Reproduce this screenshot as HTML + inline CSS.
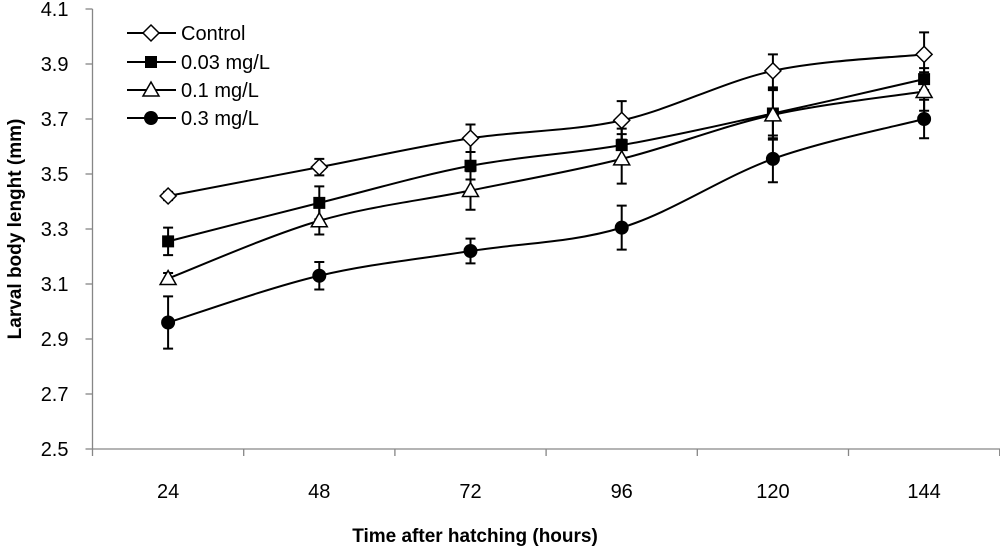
<!DOCTYPE html>
<html><head><meta charset="utf-8"><style>
html,body{margin:0;padding:0;background:#fff;}
svg{display:block;font-family:"Liberation Sans",Arial,sans-serif;}
</style></head><body>
<svg id="chart" width="1000" height="548"></svg>
<script>
const categories=[24,48,72,96,120,144];
const yTicks=[2.5,2.7,2.9,3.1,3.3,3.5,3.7,3.9,4.1];
const seriesNames=["Control","0.03 mg/L","0.1 mg/L","0.3 mg/L"];
const controlVals=[3.42,3.525,3.63,3.695,3.875,3.935];
const controlErr=[0.015,0.03,0.05,0.07,0.06,0.08];
const low03Vals=[3.255,3.395,3.53,3.605,3.72,3.845];
const low03Err=[0.05,0.06,0.05,0.06,0.09,0.04];
const mid1Vals=[3.12,3.33,3.44,3.555,3.715,3.80];
const mid1Err=[0.02,0.05,0.07,0.09,0.09,0.07];
const high3Vals=[2.96,3.13,3.22,3.305,3.555,3.70];
const high3Err=[0.095,0.05,0.045,0.08,0.085,0.07];

const NS="http://www.w3.org/2000/svg";
const svg=document.getElementById('chart');
const X0=92.5,STEP=151.2,Y0=449,Y1=9,YMIN=2.5,YMAX=4.1;
function xs(i){return X0+(i+0.5)*STEP;}
function ys(v){return Y0-(v-YMIN)/(YMAX-YMIN)*(Y0-Y1);}
function el(t,a,p){const e=document.createElementNS(NS,t);for(const k in a)e.setAttribute(k,a[k]);(p||svg).appendChild(e);return e;}
const AX='#868686';
let ax=el('line',{x1:X0,y1:Y1,x2:X0,y2:Y0,stroke:AX,'stroke-width':1.3});


let bx=el('line',{x1:X0,y1:Y0,x2:1000,y2:Y0,stroke:AX,'stroke-width':1.3});


yTicks.forEach(t=>{
  el('line',{x1:X0-7,y1:ys(t),x2:X0,y2:ys(t),stroke:AX,'stroke-width':1.3});
  const tx=el('text',{x:X0-24,y:ys(t)+7,'text-anchor':'end','font-size':20});
  tx.textContent=t.toFixed(1);
  
  
});
for(let i=0;i<=categories.length;i++){
  const x=X0+i*STEP; if(x<=1000) el('line',{x1:x,y1:Y0,x2:x,y2:Y0+7,stroke:AX,'stroke-width':1.3});
}
categories.forEach((c,i)=>{
  const tx=el('text',{x:xs(i),y:498,'text-anchor':'middle','font-size':20});
  tx.textContent=c;
  
  
});
let xt=el('text',{x:475,y:542,'text-anchor':'middle','font-size':19,'font-weight':'bold'});
xt.textContent='Time after hatching (hours)';


let yt=el('text',{x:0,y:0,'text-anchor':'middle','font-size':19,'font-weight':'bold',transform:'translate(21,229) rotate(-90)'});
yt.textContent='Larval body lenght (mm)';



function marker(type,x,y,g){
  if(type==='diamond') return el('polygon',{points:`${x},${y-8} ${x+8},${y} ${x},${y+8} ${x-8},${y}`,fill:'#fff',stroke:'#000','stroke-width':1.5},g);
  if(type==='square') return el('rect',{x:x-6,y:y-6,width:12,height:12,fill:'#000'},g);
  if(type==='triangle') return el('polygon',{points:`${x},${y-8} ${x+8},${y+6} ${x-8},${y+6}`,fill:'#fff',stroke:'#000','stroke-width':1.5},g);
  return el('circle',{cx:x,cy:y,r:7,fill:'#000'},g);
}
function smooth(pts){
  let d=`M${pts[0][0]},${pts[0][1]}`;
  for(let i=0;i<pts.length-1;i++){
    const p0=pts[i-1]||pts[i],p1=pts[i],p2=pts[i+1],p3=pts[i+2]||p2,k=1/6;
    d+=` C${p1[0]+(p2[0]-p0[0])*k},${p1[1]+(p2[1]-p0[1])*k} ${p2[0]-(p3[0]-p1[0])*k},${p2[1]-(p3[1]-p1[1])*k} ${p2[0]},${p2[1]}`;
  }
  return d;
}
const allVals=[controlVals,low03Vals,mid1Vals,high3Vals];
const allErr=[controlErr,low03Err,mid1Err,high3Err];
const types=['diamond','square','triangle','circle'];
const keys=['control','0-03-mg-l','0-1-mg-l','0-3-mg-l'];
allVals.forEach((vals,s)=>{
  const g=el('g',{});
  
  
  const pts=vals.map((v,i)=>[xs(i),ys(v)]);
  el('path',{d:smooth(pts),fill:'none',stroke:'#000','stroke-width':2},g);
  vals.forEach((v,i)=>{
    const x=xs(i),e=allErr[s][i];
    el('path',{d:`M${x},${ys(v-e)}V${ys(v+e)}M${x-5},${ys(v-e)}h10M${x-5},${ys(v+e)}h10`,stroke:'#000','stroke-width':2,fill:'none'},g);
  });
  vals.forEach((v,i)=>{
    const m=marker(types[s],xs(i),ys(v),g);
    
    
  });
});
const lg=el('g',{});


const legendY=[33,62,90,118];
seriesNames.forEach((n,s)=>{
  const y=legendY[s];
  const eg=el('g',{},lg);
  
  
  el('line',{x1:127,y1:y,x2:176,y2:y,stroke:'#000','stroke-width':2},eg);
  marker(types[s],151,y,eg);
  const t=el('text',{x:181,y:y+7,'font-size':20},eg);
  t.textContent=n;
});
</script>
</body></html>
